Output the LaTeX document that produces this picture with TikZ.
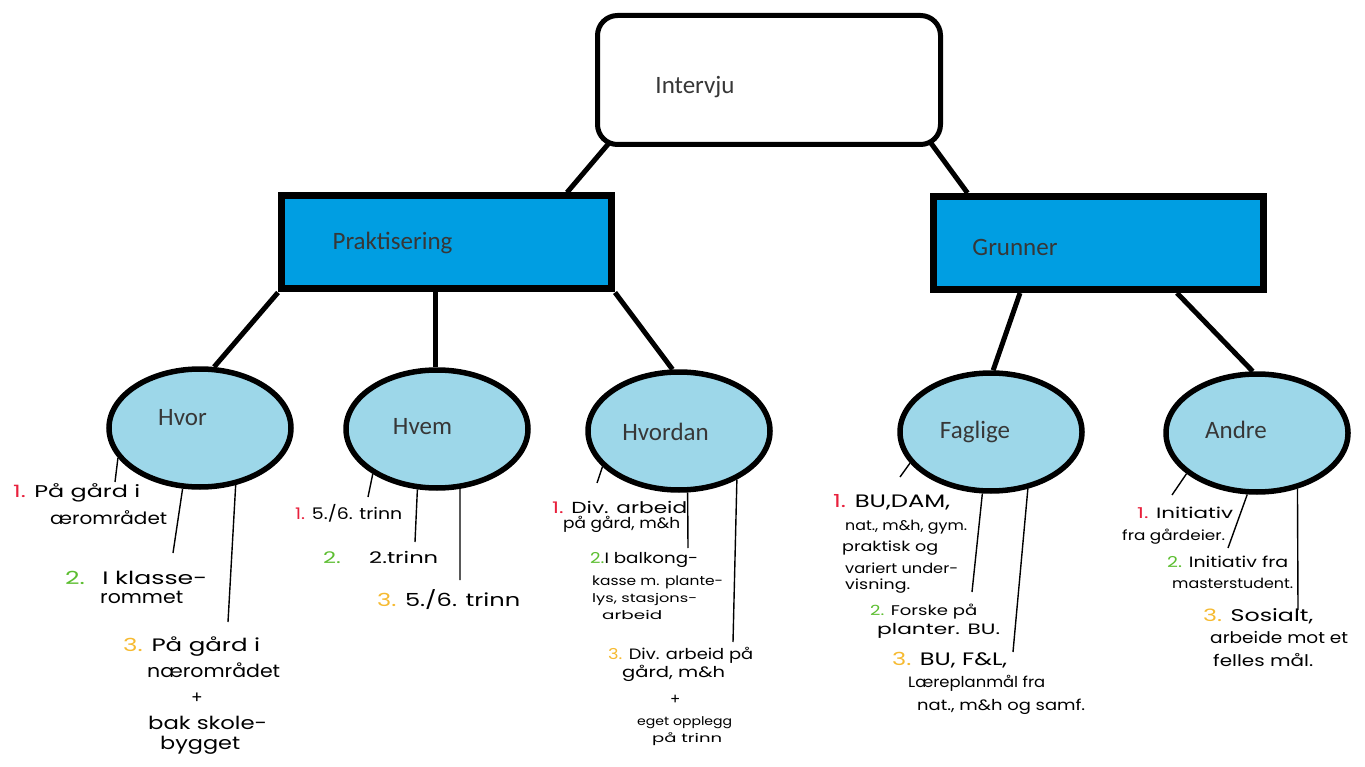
\documentclass[tikz,border=0pt]{standalone}
\usepackage{graphicx}
\usepackage{fontspec}
\setmainfont{Carlito}
\newfontfamily\handfont{Poppins}
\usetikzlibrary{shapes.geometric,backgrounds}
\definecolor{boxblue}{RGB}{0,158,226}
\definecolor{ovalblue}{RGB}{157,215,233}
\definecolor{numred}{RGB}{232,32,60}
\definecolor{numgreen}{RGB}{92,190,48}
\definecolor{numyellow}{RGB}{246,186,48}
\definecolor{labgray}{RGB}{55,55,55}
\newcommand\nA[1]{\textcolor{numred}{#1}}
\newcommand\nB[1]{\textcolor{numgreen}{#1}}
\newcommand\nC[1]{\textcolor{numyellow}{#1}}
\newcommand\hwbox[2]{\resizebox{#1pt}{\height}{#2}}
\begin{document}
\begin{tikzpicture}[x=1pt,y=-1pt,
  rootbox/.style={draw, line width=5pt, rounded corners=20pt, fill=white, minimum width=343pt, minimum height=129pt, inner sep=0pt},
  catbox/.style={draw, line width=7pt, fill=boxblue, minimum width=330pt, minimum height=93pt, inner sep=0pt},
  oval/.style={ellipse, draw, line width=5.5pt, fill=ovalblue, minimum width=182pt, minimum height=118pt, inner sep=0pt},
  lab/.style={font=\fontsize{25}{30}\selectfont, text=labgray, inner sep=0pt},
  link/.style={line width=5pt},
  hline/.style={line width=1.4pt},
  hw/.style={anchor=west, inner sep=0pt, font=\handfont\fontsize{#1}{#1}\selectfont}]
\useasboundingbox (0,0) rectangle (1365,767);

% main nodes
\node[rootbox] (root) at (769,80) {};
\node[catbox] (prak) at (446.5,242.5) {};
\node[catbox] (grun) at (1098.5,243) {};
\node[oval] (hvor) at (200,428) {};
\node[oval] (hvem) at (437,429) {};
\node[oval] (hvordan) at (679,431) {};
\node[oval] (faglige) at (991,432) {};
\node[oval] (andre) at (1257,433) {};

% labels
\node[lab] (rootT) at (695,87) {Intervju};
\node[lab] (prakT) at (392.5,243) {Praktisering};
\node[lab] (grunT) at (1015,247) {Grunner};
\node[lab] (hvorT) at (182.5,418) {Hvor};
\node[lab] (hvemT) at (422.5,427) {Hvem};
\node[lab] (hvordanT) at (665.5,432) {Hvordan};
\node[lab] (fagligeT) at (975,432) {Faglige};
\node[lab] (andreT) at (1236,430) {Andre};

% handwritten notes: Hvor
\node[hw=17] (a1a) at (13,493) {\hwbox{127}{\nA{1.} På gård i}};
\node[hw=17] (a1b) at (50,518) {\hwbox{117}{ærområdet}};
\node[hw=18] (a2a) at (65,578) {\hwbox{142}{\nB{2.}\hspace{6pt} I klasse-}};
\node[hw=18] (a2b) at (100,597) {\hwbox{83}{rommet}};
\node[hw=18] (a3a) at (123,647) {\hwbox{137}{\nC{3.} På gård i}};
\node[hw=18] (a3b) at (147,670) {\hwbox{133}{nærområdet}};
\node[hw=17] (a3c) at (191,698) {+};
\node[hw=18] (a3d) at (148,723) {\hwbox{119}{bak skole-}};
\node[hw=18] (a3e) at (160,745) {\hwbox{80}{bygget}};

% Hvem
\node[hw=16] (b1) at (295,513) {\hwbox{107}{\nA{1.} 5./6. trinn}};
\node[hw=16] (b2) at (323,557) {\hwbox{115}{\nB{2.}\hspace{20pt}2.trinn}};
\node[hw=18] (b3) at (377,600) {\hwbox{143}{\nC{3.} 5./6. trinn}};

% Hvordan
\node[hw=16] (c1a) at (552,507) {\hwbox{135}{\nA{1.} Div. arbeid}};
\node[hw=15] (c1b) at (563,524) {\hwbox{117}{på gård, m\&h}};
\node[hw=15] (c2a) at (590,560) {\hwbox{108}{\nB{2.}I balkong-}};
\node[hw=13] (c2b) at (592,582) {\hwbox{131}{kasse m. plante-}};
\node[hw=12] (c2c) at (592,599) {\hwbox{105}{lys, stasjons-}};
\node[hw=12] (c2d) at (602,615) {\hwbox{60}{arbeid}};
\node[hw=15] (c3a) at (608,655) {\hwbox{145}{\nC{3.} Div. arbeid på}};
\node[hw=15] (c3b) at (622,673) {\hwbox{103}{gård, m\&h}};
\node[hw=15] (c3c) at (670,700) {+};
\node[hw=12] (c3d) at (637,723) {\hwbox{95}{eget opplegg}};
\node[hw=12] (c3e) at (652,739) {\hwbox{70}{på trinn}};

% Faglige
\node[hw=18] (d1a) at (833,502) {\hwbox{117}{\nA{1.} BU,DAM,}};
\node[hw=14] (d1b) at (845,527) {\hwbox{122}{nat., m\&h, gym.}};
\node[hw=14] (d1c) at (842,548) {\hwbox{96}{praktisk og}};
\node[hw=14] (d1d) at (845,568) {\hwbox{113}{variert under-}};
\node[hw=14] (d1e) at (845,586) {\hwbox{65}{visning.}};
\node[hw=14] (d2a) at (870,612) {\hwbox{107}{\nB{2.} Forske på}};
\node[hw=15] (d2b) at (877,631) {\hwbox{123}{planter. BU.}};
\node[hw=18] (d3a) at (892,660) {\hwbox{115}{\nC{3.} BU, F\&L,}};
\node[hw=15] (d3b) at (908,683) {\hwbox{137}{Læreplanmål fra}};
\node[hw=15] (d3c) at (917,707) {\hwbox{168}{nat., m\&h og samf.}};

% Andre
\node[hw=15] (e1a) at (1137,513) {\hwbox{96}{\nA{1.} Initiativ}};
\node[hw=14] (e1b) at (1122,537) {\hwbox{103}{fra gårdeier.}};
\node[hw=15] (e2a) at (1167,562) {\hwbox{121}{\nB{2.} Initiativ fra}};
\node[hw=14] (e2b) at (1172,583) {\hwbox{121}{masterstudent.}};
\node[hw=17] (e3a) at (1203,616) {\hwbox{110}{\nC{3.} Sosialt,}};
\node[hw=16] (e3b) at (1210,637) {\hwbox{138}{arbeide mot et}};
\node[hw=16] (e3c) at (1213,660) {\hwbox{100}{felles mål.}};

% free ends of the handwritten connectors
\coordinate (pa1) at (115,482);
\coordinate (pa2) at (173,553);
\coordinate (pa3) at (228,622);
\coordinate (pb1) at (368,497);
\coordinate (pb2) at (415,542);
\coordinate (pb3) at (460,580);
\coordinate (pc1) at (597,483);
\coordinate (pc2) at (688,548);
\coordinate (pc3) at (733,642);
\coordinate (pd1) at (900,477);
\coordinate (pd2) at (972,592);
\coordinate (pd3) at (1013,652);
\coordinate (pe1) at (1172,495);
\coordinate (pe2) at (1228,548);
\coordinate (pe3) at (1298,610);

\begin{pgfonlayer}{background}
\fill[white] (0,0) rectangle (1365,767);
% thick connectors
\draw[link] ([xshift=14.5pt,yshift=4.5pt]root.south west) -- ([xshift=-48pt]prak.north east);
\draw[link] ([xshift=-12.5pt,yshift=4.5pt]root.south east) -- ([xshift=37.5pt]grun.north west);
\draw[link] (prak.south west) -- (hvor.77);
\draw[link] ([xshift=-11.5pt]prak.south) -- ([xshift=-2pt]hvem.north);
\draw[link] (prak.south east) -- (hvordan.96);
\draw[link] ([xshift=-78.5pt]grun.south) -- (faglige.88);
\draw[link] ([xshift=78.5pt]grun.south) -- (andre.94);
% thin handwritten connectors
\draw[hline] (hvor.200) -- (pa1);
\draw[hline] (hvor.254) -- (pa2);
\draw[hline] (hvor.302) -- (pa3);
\draw[hline] (hvem.215) -- (pb1);
\draw[hline] (hvem.252) -- (pb2);
\draw[hline] (hvem.291) -- (pb3);
\draw[hline] (hvordan.205) -- (pc1);
\draw[hline] (hvordan.278) -- (pc2);
\draw[hline] (hvordan.320) -- (pc3);
\draw[hline] (faglige.201) -- (pd1);
\draw[hline] (faglige.262) -- (pd2);
\draw[hline] (faglige.303) -- (pd3);
\draw[hline] (andre.210) -- (pe1);
\draw[hline] (andre.261) -- (pe2);
\draw[hline] (andre.306) -- (pe3);
\end{pgfonlayer}
\end{tikzpicture}
\end{document}
